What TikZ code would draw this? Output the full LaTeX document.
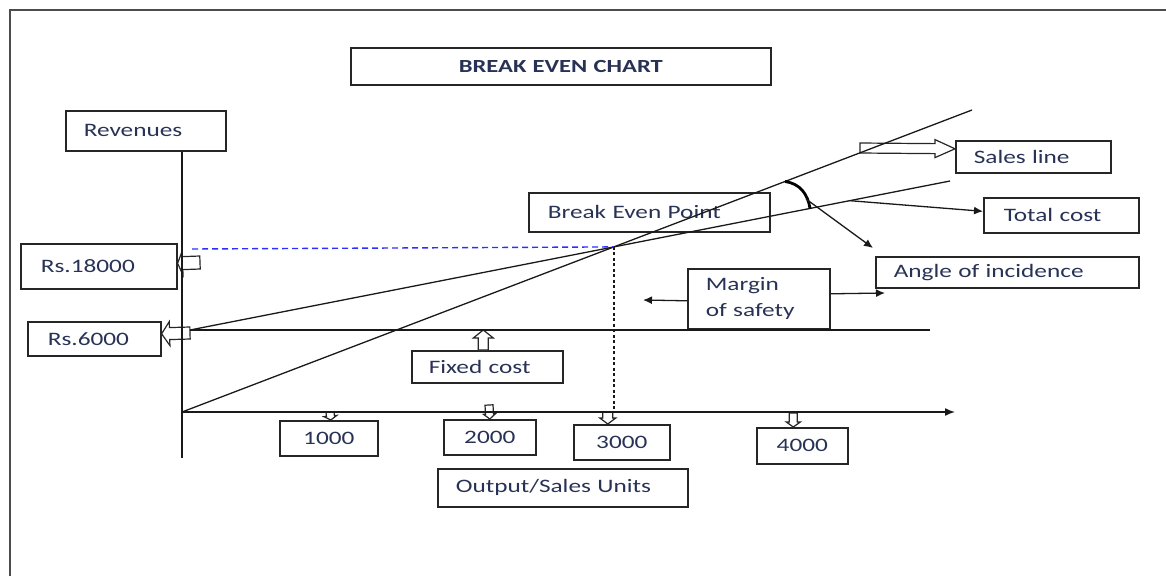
\documentclass[tikz,border=0pt]{standalone}
\usepackage{fontspec}
\newfontfamily\chartfont{Carlito}[FakeStretch=1.33]
\usetikzlibrary{calc,arrows.meta}
\definecolor{labeltext}{RGB}{40,50,85}
\definecolor{guideblue}{RGB}{45,45,255}

% hollow block arrow: tail, tip, shaft half-width, head half-width, head length
\newcommand\blockarrow[5]{%
  \coordinate (ba-b) at ($(#2)!#5!(#1)$);
  \draw[blockline] ($(#1)!#3!90:(#2)$) -- ($(ba-b)!#3!-90:(#1)$)
    -- ($(ba-b)!#4!-90:(#1)$) -- (#2) -- ($(ba-b)!#4!90:(#1)$)
    -- ($(ba-b)!#3!90:(#1)$) -- ($(#1)!#3!-90:(#2)$) -- cycle;
}

\begin{document}
\begin{tikzpicture}[x=1pt,y=-1pt,
  box/.style={draw=black!85, line width=1.6pt, anchor=north west, inner ysep=0pt,
    font=\chartfont\fontsize{19}{26}\selectfont, text=labeltext, align=left},
  numbox/.style={box, align=center, inner xsep=0pt},
  blockline/.style={draw=black!85, line width=1.2pt, fill=white, line join=miter},
  chartline/.style={black!90, line width=1.3pt},
  axisline/.style={black!90, line width=1.5pt},
  pointer/.style={black!90, line width=1.3pt, -{Latex[length=9pt,width=8pt]}},
  frame/.style={black!70, line width=2pt}]

\useasboundingbox (0,0) rectangle (1166,576);

% outer frame
\draw[frame] (10,576) -- (10,10) -- (1166,10);

% labels
\node[box, align=center, inner xsep=0pt, text width=420pt, minimum height=37pt,
  font=\chartfont\bfseries\fontsize{18.5}{22}\selectfont] (title) at (350,47) {BREAK EVEN CHART};
\node[box, inner xsep=18pt, text width=124pt, minimum height=40pt] (rev) at (65,110) {Revenues};
\node[box, inner xsep=20pt, text width=116pt, minimum height=45pt] (rs18) at (20,243) {Rs.18000};
\node[box, inner xsep=20pt, text width=93pt, minimum height=34pt] (rs6) at (27,321) {Rs.6000};
\node[box, inner xsep=19pt, text width=203pt, minimum height=39pt] (bepbox) at (528,192) {Break Even Point};
\node[box, inner xsep=18pt, text width=119pt, minimum height=32pt] (sales) at (955,140) {Sales line};
\node[box, inner xsep=20pt, text width=115pt, minimum height=35pt] (total) at (983,197) {Total cost};
\node[box, inner xsep=18pt, text width=227pt, minimum height=31pt] (aoi) at (875,256) {Angle of incidence};
\node[box, inner xsep=18pt, text width=106pt, minimum height=60pt] (mos) at (687,268) {Margin\\of safety};
\node[box, inner xsep=17pt, text width=117pt, minimum height=32pt] (fixed) at (411,350) {Fixed cost};
\node[numbox, text width=98pt, minimum height=35pt] (t1000) at (279,420) {1000};
\node[numbox, text width=92pt, minimum height=35pt] (t2000) at (443,419) {2000};
\node[numbox, text width=96pt, minimum height=35pt] (t3000) at (573,424) {3000};
\node[numbox, text width=91pt, minimum height=36pt] (t4000) at (756,427) {4000};
\node[box, inner xsep=18pt, text width=214pt, minimum height=38pt] (output) at (437,468) {Output/Sales Units};

% chart geometry
\coordinate (O) at (182,412);
\coordinate (ybot) at (182,458);
\coordinate (xend) at (955,412);
\coordinate (s1) at (972,110);
\coordinate (c0) at (190,330);
\coordinate (c1) at (950,181);
\coordinate (f1) at (930,330);
\coordinate (bep) at (intersection of O--s1 and c0--c1);

% block arrows to the labels
\coordinate (a18) at (200,262.5);
\coordinate (a18h) at ($(rs18.east)+(0,-3)$);
\blockarrow{a18}{a18h}{6.5pt}{12pt}{5pt}
\coordinate (a6) at (190,333);
\coordinate (a6h) at ($(rs6.east)+(0,-5)$);
\blockarrow{a6}{a6h}{6pt}{12pt}{8pt}
\coordinate (afc) at ($(fixed.north)+(-4,0)$);
\coordinate (afch) at (afc |- c0);
\blockarrow{afc}{afch}{5pt}{10pt}{8pt}
\coordinate (a1k) at (330,412);
\coordinate (a1kh) at ($(t1000.north)+(2,0)$);
\blockarrow{a1k}{a1kh}{4pt}{6.5pt}{4pt}
\coordinate (a2k) at (489,405);
\coordinate (a2kh) at (t2000.north);
\blockarrow{a2k}{a2kh}{4pt}{6pt}{5pt}
\coordinate (a3kh) at ($(t3000.north)+(-14,0)$);
\coordinate (a3k) at (a3kh |- O);
\blockarrow{a3k}{a3kh}{5pt}{8pt}{6pt}
\coordinate (a4kh) at ($(t4000.north)+(-9,0)$);
\coordinate (a4k) at ($(a4kh |- O)+(0,1)$);
\blockarrow{a4k}{a4kh}{4pt}{7pt}{5pt}
\coordinate (asl) at (860,148);
\coordinate (aslh) at ($(sales.west)+(0,-8)$);
\blockarrow{asl}{aslh}{5pt}{9pt}{20pt}

% axes
\draw[axisline] (O |- rev.south) -- (ybot);
\draw[axisline, -{Latex[length=10pt,width=8pt]}] (O) -- (xend);

% sales, total cost and fixed cost lines
\draw[chartline] (O) -- (s1);
\draw[chartline] (c0) -- (c1);
\draw[chartline] (c0) -- (f1);

% break even guides
\coordinate (g18) at (192,249);
\draw[guideblue, line width=1.4pt, dash pattern=on 6pt off 4pt] (g18) -- (bep);
\draw[black!90, line width=1.3pt, dash pattern=on 3pt off 2.5pt] (bep) -- (bep |- O);

% angle of incidence
\coordinate (arcA) at ($(O)!0.7633!(s1)$);
\coordinate (arcB) at ($(c0)!0.8158!(c1)$);
\draw[black, line width=2.8pt] (arcA) .. controls +(15,2) and +(-2,-14) .. (arcB);
\coordinate (arcM) at (806,199);
\coordinate (aoiTip) at ($(aoi.north west)+(-2,-8)$);
\draw[pointer] (arcM) -- (aoiTip);

% total cost pointer
\coordinate (tcp) at ($(c0)!0.868!(c1)$);
\draw[pointer] (tcp) -- ($(total.west)+(0,-4)$);

% margin of safety pointers
\coordinate (mosL) at (643,300);
\coordinate (mosR) at (885,293);
\draw[pointer] ($(mos.west)+(0,2)$) -- (mosL);
\draw[pointer] ($(mos.east)+(0,-5)$) -- (mosR);

\end{tikzpicture}
\end{document}
